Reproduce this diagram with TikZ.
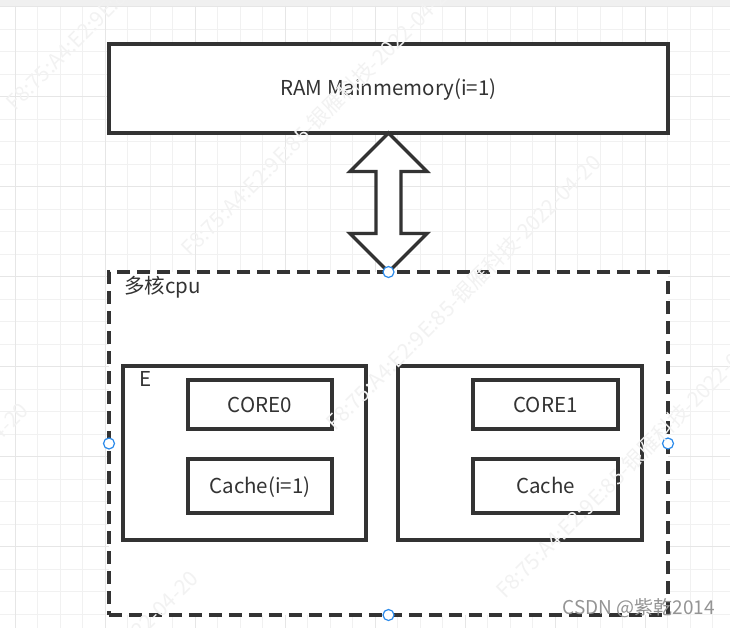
\documentclass[tikz,border=0pt]{standalone}
\usepackage{fontspec}
\setmainfont{Noto Sans CJK SC}
\usepackage{tikz}
\definecolor{linie}{RGB}{51,51,51}
\definecolor{raster}{RGB}{241,241,241}
\definecolor{rasterdunkel}{RGB}{230,230,230}
\definecolor{griffblau}{RGB}{41,137,234}
\usetikzlibrary{calc}

\begin{document}
\begin{tikzpicture}[x=1pt, y=-1pt,
				box/.style={draw=linie, line width=3.2pt, fill=white, inner sep=0pt, outer sep=0pt, text=linie, text height=15pt, text depth=0pt},
				griff/.style={circle, draw=griffblau, line width=1.2pt, fill=white, minimum size=11pt, inner sep=0pt},
				wz/.style={text=black!5, font=\fontsize{21}{21}\selectfont, rotate=45, inner sep=0pt},
				font=\fontsize{20.5}{24}\selectfont]
				\useasboundingbox (0,0) rectangle (730,628);
				%Raster zeichnen
				\fill[black!6] (0,0) rectangle (730,6);
				\foreach \i in {0,...,32} \draw[raster, line width=1pt] ({15+22.5*\i},6) -- ({15+22.5*\i},628);
				\foreach \i in {0,...,27} \draw[raster, line width=1pt] (0,{6.7+22.5*\i}) -- (730,{6.7+22.5*\i});
				\foreach \i in {0,...,8} \draw[rasterdunkel, line width=1pt] ({15+90*\i},6) -- ({15+90*\i},628);
				\foreach \i in {0,...,6} \draw[rasterdunkel, line width=1pt] (0,{6.7+90*\i}) -- (730,{6.7+90*\i});
				% Hauptspeicher
				\node[box, line width=3.4pt, minimum width=559pt, minimum height=89pt] (ram) at (388.5,88.5) {RAM Mainmemory(i=1)};
				% Mehrkern-CPU
				\node[box, line width=3.4pt, dash pattern=on 13pt off 7pt, minimum width=559pt, minimum height=343pt] (cpu) at (388.5,443.5) {};
				\node[anchor=base west, inner sep=0pt, text=linie] (cpuname) at (124,293) {多核cpu};
				% Kerne links
				\node[box, minimum width=243pt, minimum height=174pt] (kern0) at (244.5,453) {};
				\node[anchor=base west, inner sep=0pt, text=linie] (ename) at (139,386) {E};
				\node[box, minimum width=144pt, minimum height=49pt] (core0) at (260,404.5) {CORE0};
				\node[box, minimum width=144pt, minimum height=54pt] (cache0) at (260,486) {Cache(i=1)};
				% Kerne rechts
				\node[box, minimum width=244pt, minimum height=174pt] (kern1) at (520,453) {};
				\node[box, minimum width=145pt, minimum height=49pt] (core1) at (545.5,404.5) {CORE1};
				\node[box, minimum width=145pt, minimum height=54pt] (cache1) at (545.5,486) {Cache};
				% Doppelpfeil
				\coordinate (oben) at (ram.south);
				\coordinate (unten) at (cpu.north);
				\draw[draw=linie, line width=3.2pt, fill=white, line join=miter] (oben) -- ++(38.5,38.5) -- ++(-26,0) -- ($(unten)+(12.5,-38.5)$) -- ++(26,0) -- (unten) -- ++(-38.5,-38.5) -- ++(26,0) -- ($(oben)+(-12.5,38.5)$) -- ++(-26,0) -- cycle;
				% Griffe
				\foreach \a in {north,south,east,west} \node[griff] (g-\a) at (cpu.\a) {};
				%Wasserzeichen
				\begin{scope}
				\clip (0,0) rectangle (730,628);
				\node[wz, anchor=base west] (wz1) at (15,112) {F8:75:A4:E2:9E:85-银雁科技-2022-04-20};
				\node[wz, anchor=base west] (wz2) at (190,258) {F8:75:A4:E2:9E:85-银雁科技-2022-04-20};
				\node[wz, anchor=base west] (wz3) at (335,432) {F8:75:A4:E2:9E:85-银雁科技-2022-04-20};
				\node[wz, anchor=base west] (wz4) at (505,600) {F8:75:A4:E2:9E:85-银雁科技-2022-04-20};
				\node[wz, anchor=base east] (wz5) at (30,412) {F8:75:A4:E2:9E:85-银雁科技-2022-04-20};
				\node[wz, anchor=base east] (wz6) at (200,580) {F8:75:A4:E2:9E:85-银雁科技-2022-04-20};
				\end{scope}
				\node[anchor=base east, inner sep=0pt, text=black!42, font=\fontsize{19}{19}\selectfont] (csdn) at (715,614) {CSDN @紫乾2014};
			\end{tikzpicture}
\end{document}
